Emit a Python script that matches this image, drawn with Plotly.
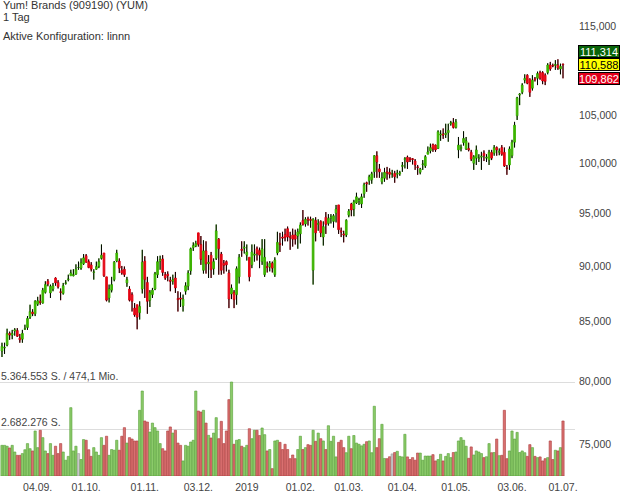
import math
import pandas as pd
import plotly.graph_objects as go

# ---------------- DATA ----------------
first_day = "2018-08-14"
last_day = "2019-07-01"
market_holidays = ["2018-09-03", "2018-11-22", "2018-12-05", "2018-12-25", "2019-01-01",
                   "2019-01-21", "2019-02-18", "2019-04-19", "2019-05-27"]
dates = [d.strftime("%Y-%m-%d") for d in pd.bdate_range(first_day, last_day)
         if d.strftime("%Y-%m-%d") not in market_holidays]

opens = [82.5, 82.75, 83.0, 84.0, 83.85, 84.2, 84.25, 83.6, 83.5, 84.35,
         84.5, 85.4, 85.85, 85.7, 86.55, 86.8, 86.65, 87.6, 88.6, 87.55,
         87.9, 88.9, 88.5, 87.65, 87.5, 88.4, 88.75, 89.1, 89.1, 89.25,
         89.85, 89.8, 90.2, 90.95, 90.4, 90.1, 89.4, 89.7, 89.95, 90.7,
         91.2, 89.0, 87.1, 87.8, 88.75, 90.45, 90.45, 89.6, 89.7, 88.45,
         87.9, 87.4, 86.2, 86.5, 85.8, 87.9, 90.45, 88.5, 86.9, 87.4,
         87.9, 89.2, 90.45, 90.65, 89.2, 89.25, 88.7, 88.6, 88.9, 87.05,
         87.1, 86.4, 87.7, 88.15, 89.55, 91.7, 91.85, 93.1, 92.0, 89.6,
         91.4, 90.2, 91.0, 89.75, 90.7, 92.5, 91.1, 90.25, 90.4, 89.35,
         87.45, 87.6, 87.4, 89.0, 91.55, 91.65, 91.0, 90.8, 90.1, 91.0,
         91.6, 91.45, 90.4, 89.2, 89.95, 89.9, 90.25, 89.2, 91.2, 92.1,
         92.7, 92.95, 93.5, 92.75, 92.9, 92.9, 92.8, 93.0, 94.3, 93.95,
         94.45, 94.4, 89.6, 94.3, 93.9, 94.2, 92.7, 94.6, 94.0, 94.5,
         94.2, 95.0, 95.8, 93.3, 93.0, 92.9, 94.8, 95.9, 95.4, 96.0,
         96.2, 95.9, 96.9, 98.0, 98.2, 98.3, 99.1, 100.75, 99.4, 98.1,
         98.45, 99.1, 99.05, 98.9, 98.95, 98.85, 98.9, 99.65, 100.35, 100.6,
         100.45, 100.45, 100.2, 99.6, 99.05, 99.85, 99.7, 100.9, 101.25, 101.9,
         101.85, 101.5, 102.9, 103.0, 102.95, 103.15, 104.1, 104.2, 103.7, 101.35,
         101.5, 102.1, 101.45, 101.5, 101.1, 99.97, 100.5, 100.45, 100.6, 101.0,
         100.5, 100.3, 101.1, 101.0, 101.6, 101.1, 101.6, 101.1, 99.5, 99.8,
         100.75, 102.15, 104.95, 107.2, 107.5, 108.85, 109.4, 108.95, 107.95, 109.0,
         109.05, 109.7, 109.7, 109.4, 109.7, 110.55, 110.5, 110.5, 110.55, 110.1,
         110.65]
highs = [83.2, 83.2, 84.4, 84.15, 84.3, 84.45, 84.45, 83.95, 84.3, 84.75,
         85.5, 86.5, 86.1, 86.9, 87.2, 87.4, 88.0, 88.6, 88.8, 88.3,
         88.45, 88.95, 88.7, 87.95, 88.45, 88.7, 89.2, 89.65, 89.7, 90.15,
         90.4, 90.7, 91.1, 91.1, 90.6, 90.35, 89.7, 90.4, 90.7, 92.0,
         91.2, 89.0, 88.3, 89.0, 90.45, 91.5, 90.7, 90.0, 89.95, 89.0,
         88.15, 87.6, 86.65, 86.5, 86.8, 91.5, 90.9, 89.0, 87.8, 88.0,
         89.45, 90.9, 90.95, 91.0, 89.45, 89.5, 89.0, 89.2, 89.45, 87.7,
         87.6, 87.4, 88.5, 89.6, 91.7, 92.2, 92.35, 93.1, 92.8, 92.4,
         92.3, 91.0, 91.3, 90.7, 93.9, 92.6, 91.3, 90.55, 90.5, 89.65,
         88.3, 87.8, 89.95, 91.1, 92.3, 92.3, 92.0, 90.8, 92.0, 92.0,
         91.8, 91.7, 92.5, 92.5, 90.4, 90.45, 90.4, 90.8, 93.2, 93.1,
         93.2, 93.5, 93.7, 93.2, 93.5, 93.4, 93.5, 94.1, 95.3, 94.6,
         94.65, 94.65, 94.5, 94.6, 94.4, 94.3, 94.2, 95.1, 94.9, 94.9,
         94.9, 95.8, 95.8, 93.6, 93.3, 94.4, 95.4, 96.0, 96.3, 97.0,
         96.5, 96.9, 98.0, 98.1, 98.8, 99.1, 100.8, 101.2, 99.9, 99.05,
         99.5, 99.6, 99.45, 99.3, 99.2, 99.3, 99.2, 100.1, 100.6, 100.75,
         100.6, 100.5, 100.4, 99.8, 99.5, 100.3, 100.8, 101.7, 102.0, 102.0,
         101.9, 103.4, 103.4, 103.6, 104.1, 104.1, 104.4, 104.7, 104.6, 102.7,
         101.9, 103.3, 102.7, 102.1, 101.35, 100.8, 101.8, 100.9, 101.15, 101.3,
         100.9, 101.35, 101.35, 101.85, 101.7, 101.5, 101.85, 101.6, 99.8, 101.7,
         102.4, 104.3, 107.0, 107.4, 108.5, 109.5, 109.5, 109.05, 109.4, 109.2,
         109.8, 109.9, 109.85, 109.6, 110.75, 110.9, 110.7, 111.1, 111.2, 110.7,
         110.7]
lows = [81.95, 82.25, 82.9, 83.45, 83.5, 83.8, 83.7, 83.2, 83.2, 84.3,
        84.3, 85.25, 85.5, 85.5, 86.4, 86.5, 86.6, 87.5, 88.15, 87.1,
        87.7, 88.2, 87.95, 86.9, 87.4, 88.3, 88.6, 89.1, 89.05, 89.2,
        89.65, 89.65, 90.1, 90.3, 89.8, 89.5, 88.75, 89.65, 89.8, 90.6,
        89.0, 86.8, 86.7, 87.6, 88.6, 90.35, 89.35, 89.2, 89.0, 88.1,
        86.8, 85.9, 85.45, 84.35, 85.2, 87.5, 87.1, 85.7, 86.3, 87.1,
        87.8, 88.9, 89.65, 89.1, 88.73, 88.6, 87.7, 88.3, 87.55, 85.9,
        86.3, 85.9, 87.4, 87.8, 89.2, 91.4, 91.75, 91.8, 90.1, 89.3,
        89.3, 88.9, 88.9, 89.2, 90.55, 89.2, 89.2, 89.3, 89.5, 86.2,
        87.0, 86.2, 86.5, 88.4, 90.85, 91.15, 90.5, 88.6, 89.8, 90.4,
        90.5, 89.8, 90.1, 89.0, 89.4, 89.5, 89.4, 89.0, 91.0, 91.3,
        91.9, 92.3, 92.3, 91.5, 91.8, 92.0, 91.6, 92.1, 93.8, 93.7,
        93.8, 93.6, 88.3, 92.3, 93.3, 92.7, 91.9, 93.0, 93.8, 94.0,
        93.6, 94.1, 93.0, 92.7, 92.2, 92.7, 94.6, 94.7, 94.7, 95.9,
        95.8, 95.5, 96.5, 97.1, 97.8, 97.9, 98.5, 98.5, 98.5, 97.85,
        98.1, 98.3, 98.45, 98.5, 98.0, 98.45, 98.7, 99.1, 99.45, 99.4,
        100.1, 99.85, 99.3, 98.8, 98.85, 99.3, 99.5, 100.9, 101.0, 101.15,
        101.15, 101.45, 102.3, 102.5, 102.6, 102.2, 103.9, 103.6, 103.6, 100.5,
        101.2, 101.8, 101.35, 101.2, 100.2, 99.3, 99.8, 100.1, 99.3, 100.2,
        100.1, 99.8, 100.3, 100.75, 100.75, 100.8, 100.75, 99.6, 98.8, 99.3,
        100.5, 101.6, 104.5, 106.1, 107.3, 108.5, 108.4, 107.0, 107.7, 108.7,
        108.3, 108.9, 108.4, 108.3, 109.5, 109.9, 110.3, 110.0, 110.0, 109.5,
        109.05]
closes = [82.9, 82.8, 84.0, 83.85, 84.0, 84.3, 83.75, 83.45, 84.0, 84.4,
          85.3, 85.9, 85.7, 86.8, 86.85, 86.7, 87.8, 88.3, 88.35, 88.15,
          88.2, 88.45, 88.1, 87.6, 88.2, 88.45, 88.8, 89.35, 89.2, 89.7,
          89.85, 90.3, 90.75, 90.35, 89.85, 89.7, 89.45, 89.95, 90.4, 91.0,
          89.1, 86.9, 87.9, 88.3, 90.35, 91.2, 89.8, 89.35, 89.2, 88.75,
          86.9, 86.8, 85.6, 85.4, 86.35, 90.35, 88.75, 86.8, 87.6, 87.8,
          89.3, 90.4, 90.6, 89.4, 88.9, 89.1, 88.6, 88.75, 88.0, 86.95,
          87.0, 87.0, 88.2, 89.35, 91.6, 91.9, 92.1, 92.0, 90.6, 91.4,
          90.2, 90.35, 89.65, 90.4, 93.3, 91.6, 89.6, 90.05, 90.1, 87.0,
          88.0, 86.95, 89.75, 90.8, 91.45, 91.75, 91.3, 89.0, 91.3, 91.1,
          91.15, 91.0, 91.6, 90.8, 89.85, 90.25, 89.8, 90.55, 92.2, 92.0,
          92.6, 92.65, 92.7, 92.65, 92.5, 92.5, 93.2, 93.85, 93.9, 94.4,
          94.35, 94.3, 94.4, 93.1, 94.0, 93.1, 93.7, 93.9, 94.5, 94.6,
          94.75, 95.4, 93.4, 93.2, 92.9, 94.3, 95.2, 95.3, 96.1, 96.6,
          96.3, 96.6, 97.8, 97.9, 98.6, 98.9, 100.75, 100.1, 99.1, 98.5,
          99.05, 99.0, 98.85, 98.9, 98.6, 98.95, 99.0, 99.75, 100.45, 100.1,
          100.35, 100.35, 99.8, 99.55, 99.4, 99.9, 100.65, 101.15, 101.6, 101.45,
          101.35, 103.25, 103.0, 102.9, 103.1, 103.4, 104.2, 103.7, 104.3, 101.85,
          101.6, 102.55, 102.3, 101.35, 100.4, 100.65, 101.35, 100.5, 100.7, 100.75,
          100.6, 101.1, 100.5, 101.6, 101.35, 101.2, 100.9, 99.7, 99.45, 101.45,
          102.15, 103.95, 106.9, 107.3, 108.3, 109.05, 108.5, 107.5, 108.85, 108.9,
          109.6, 109.05, 108.75, 108.7, 110.55, 110.1, 110.45, 110.6, 110.2, 110.4,
          110.588]
# volume in million shares
volumes_mio = [1.75, 1.75, 1.70, 1.60, 1.75, 1.37, 1.18, 1.18, 1.28, 1.50,
               1.85, 1.56, 1.43, 2.57, 1.62, 2.61, 2.19, 1.43, 1.28, 1.85,
               1.18, 1.70, 1.28, 1.85, 1.37, 0.90, 1.12, 3.90, 1.43, 1.70,
               1.28, 0.94, 2.08, 2.04, 1.50, 1.12, 1.62, 1.37, 1.18, 2.19,
               1.75, 2.27, 1.18, 1.51, 1.47, 2.04, 1.47, 2.27, 2.76, 1.88,
               2.19, 2.11, 2.00, 2.00, 3.75, 4.85, 3.14, 3.08, 2.51, 3.02,
               2.76, 2.57, 1.85, 1.56, 1.43, 2.57, 2.80, 2.45, 2.61, 1.88,
               1.75, 0.86, 1.75, 1.70, 1.94, 2.04, 4.85, 3.71, 3.65, 3.75,
               3.02, 2.32, 2.17, 2.45, 3.33, 2.13, 3.12, 1.85, 2.57, 4.36,
               5.364553, 1.81, 2.04, 2.08, 1.70, 1.62, 1.75, 2.70, 2.13, 2.61,
               2.61, 2.31, 2.74, 2.36, 1.43, 1.51, 0.42, 2.00, 2.04, 1.92,
               1.51, 1.81, 1.51, 0.99, 1.20, 0.99, 1.51, 2.27, 1.51, 1.62,
               1.79, 1.75, 2.61, 1.98, 2.45, 2.13, 2.00, 1.51, 2.87, 1.98,
               2.27, 1.09, 1.92, 2.04, 1.62, 1.33, 2.27, 1.56, 2.31, 1.88,
               1.81, 1.72, 1.81, 1.96, 2.00, 1.33, 3.98, 1.62, 2.13, 2.95,
               1.00, 0.99, 1.10, 1.26, 1.34, 1.41, 1.12, 1.09, 2.38, 1.09,
               0.94, 1.05, 0.90, 1.31, 1.31, 0.90, 1.14, 1.14, 1.14, 1.22,
               0.86, 0.94, 1.24, 0.86, 1.12, 1.28, 1.05, 1.34, 1.37, 2.00,
               2.19, 2.04, 1.70, 1.01, 1.66, 1.20, 1.43, 1.37, 1.28, 1.05,
               1.10, 1.85, 1.33, 1.34, 2.11, 1.16, 1.18, 3.75, 0.99, 1.43,
               2.57, 2.11, 2.49, 1.34, 1.43, 1.33, 1.12, 1.79, 1.62, 1.12,
               1.05, 1.09, 0.86, 0.99, 1.05, 2.00, 0.94, 1.47, 1.43, 1.62,
               3.14]

volume_max_label = "5.364.553 S. / 474,1 Mio."
volume_half_label = "2.682.276 S."
volume_max = 5.364553
volume_half = 2.682276

title_lines = ["Yum! Brands (909190) (YUM)", "1 Tag"]
config_text = "Aktive Konfiguration: linnn"

quote_high = 111.314
quote_last = 110.588
quote_low = 109.862

# 110,000 sits behind the quote boxes in the reference, so it is not shown
price_ticks = [75, 80, 85, 90, 95, 100, 105, 115]
x_tick_dates = ["2018-09-04", "2018-10-01", "2018-11-01", "2018-12-03", "2019-01-02",
                "2019-02-01", "2019-03-01", "2019-04-01", "2019-05-01", "2019-06-03", "2019-07-01"]
x_tick_text = ["04.09.", "01.10.", "01.11.", "03.12.", "2019", "01.02.", "01.03.",
               "01.04.", "01.05.", "03.06.", "01.07."]

assert len(dates) == len(opens) == len(highs) == len(lows) == len(closes) == len(volumes_mio)

# ---------------- STYLE ----------------
GREEN = "#3cb300"
RED = "#e30613"
VOL_G_FILL, VOL_G_LINE = "#8ccb6a", "#559f35"
VOL_R_FILL, VOL_R_LINE = "#d97070", "#ad3a3a"
VOL_N_FILL, VOL_N_LINE = "#c8c8c8", "#9a9a9a"
FONT = "Liberation Sans, Arial, sans-serif"

W, H = 620, 496
ML, MR, MT, MB = 0, 45, 0, 20
PH = H - MT - MB
PW = W - ML - MR

fill_cols, line_cols = [], []
for o, c in zip(opens, closes):
    if c > o:
        fill_cols.append(VOL_G_FILL); line_cols.append(VOL_G_LINE)
    elif c < o:
        fill_cols.append(VOL_R_FILL); line_cols.append(VOL_R_LINE)
    else:
        fill_cols.append(VOL_N_FILL); line_cols.append(VOL_N_LINE)

# wick segments outside bodies
wx, wy = [], []
for d, o, h, l, c in zip(dates, opens, highs, lows, closes):
    top, bot = max(o, c), min(o, c)
    wx += [d, d, None, d, d, None]
    wy += [h, top, None, bot, l, None]

fig = go.Figure()
fig.add_trace(go.Bar(
    x=dates, y=volumes_mio, yaxis="y2", xaxis="x",
    marker=dict(color=fill_cols, line=dict(color=line_cols, width=0.6)),
    hoverinfo="skip", showlegend=False))
fig.add_trace(go.Candlestick(
    x=dates, open=opens, high=highs, low=lows, close=closes,
    increasing=dict(line=dict(color=GREEN, width=1), fillcolor=GREEN),
    decreasing=dict(line=dict(color=RED, width=1), fillcolor=RED),
    showlegend=False, hoverinfo="skip"))
fig.add_trace(go.Scatter(
    x=wx, y=wy, mode="lines", line=dict(color="black", width=1),
    hoverinfo="skip", showlegend=False, connectgaps=False))

# log range for price axis (prices in units; label 100,000 == 100)
log_top = 2.072444
log_bot = 1.860889
vol_range_top = volume_half / 47.0 * (0.25 * PH)


def ypix(py):
    return (PH - py) / PH


def txt(text, x_px, y_px, size, color):
    return dict(text=text, x=x_px / PW, y=ypix(y_px), xref="paper", yref="paper",
                xanchor="left", yanchor="middle", showarrow=False, borderpad=0,
                font=dict(size=size, color=color, family=FONT))


annotations = [
    txt(title_lines[0], 2, 5.5, 11, "#333"),
    txt(title_lines[1], 2, 17, 11, "#333"),
    txt(config_text, 2, 36, 11, "#333"),
    txt(volume_max_label, 0, 375.5, 10.5, "#444"),
    txt(volume_half_label, 0, 422, 10.5, "#444"),
]
box_x = 578 / PW
for val, shift, bg, fg in [(quote_high, 13.5, "#0a640a", "white"),
                           (quote_last, 0, "#ffff00", "black"),
                           (quote_low, -13.5, "#e3001b", "white")]:
    annotations.append(dict(
        text=f"{val:.3f}".replace(".", ","), x=box_x, y=math.log10(quote_last),
        xref="paper", yref="y", xanchor="left", yanchor="middle", yshift=shift,
        showarrow=False, bgcolor=bg, bordercolor="black", borderwidth=1, borderpad=0,
        width=40, height=11, font=dict(size=11, color=fg, family=FONT)))

fig.update_layout(
    width=W, height=H, margin=dict(l=ML, r=MR, t=MT, b=MB),
    paper_bgcolor="white", plot_bgcolor="white",
    showlegend=False, hovermode=False, bargap=0.12, boxgap=0.08,
    font=dict(family=FONT),
    xaxis=dict(type="category", range=[-0.78, 224.7], tickmode="array",
               tickvals=x_tick_dates, ticktext=x_tick_text, showgrid=False,
               showline=False, zeroline=False, ticks="", rangeslider=dict(visible=False),
               ticklabelstandoff=3,
               tickfont=dict(size=10.5, color="#444", family=FONT), anchor="y"),
    yaxis=dict(type="log", side="right", range=[log_bot, log_top], tickmode="array",
               tickvals=price_ticks, ticktext=[f"{t * 1000:,.0f}" for t in price_ticks],
               showgrid=False, zeroline=False, showline=False, ticks="",
               ticklabelstandoff=3,
               tickfont=dict(size=10.5, color="#444", family=FONT), domain=[0, 1]),
    yaxis2=dict(domain=[0, 0.25], range=[0, vol_range_top], tickmode="array",
                tickvals=[volume_half, volume_max], showticklabels=False,
                showgrid=True, gridcolor="#dddddd", gridwidth=1, zeroline=False,
                showline=False, ticks="", anchor="x"),
    annotations=annotations,
)

fig.write_html("out.html", config={"displayModeBar": False})
